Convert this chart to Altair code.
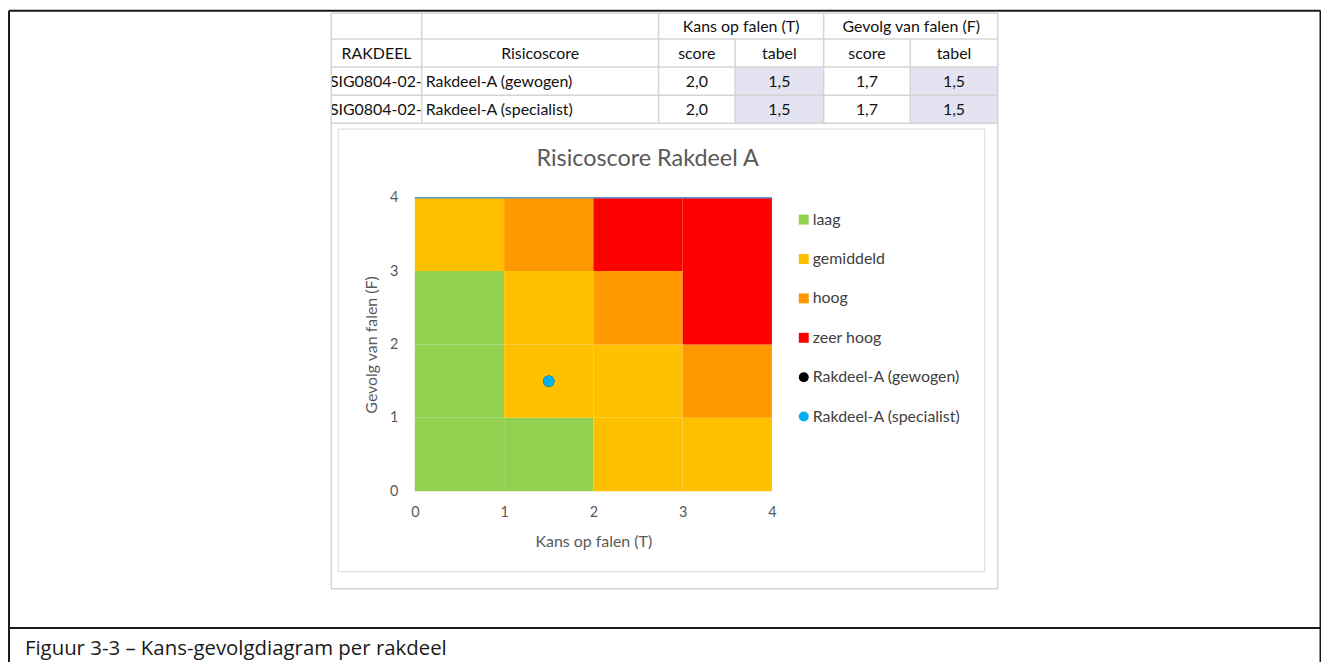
import altair as alt
import pandas as pd

# ---------------- data ----------------
risk_classes = ["laag", "gemiddeld", "hoog", "zeer hoog"]
class_colors = ["#92D050", "#FFC000", "#FF9900", "#FF0000"]
# rows: F band 0-1, 1-2, 2-3, 3-4 ; columns: T band 0-1 .. 3-4
risk_grid = [
    ["laag", "laag", "gemiddeld", "gemiddeld"],
    ["laag", "gemiddeld", "gemiddeld", "hoog"],
    ["laag", "gemiddeld", "hoog", "zeer hoog"],
    ["gemiddeld", "hoog", "zeer hoog", "zeer hoog"],
]
point_names = ["Rakdeel-A (gewogen)", "Rakdeel-A (specialist)"]
point_T = [1.5, 1.5]
point_F = [1.5, 1.5]
point_colors = ["#000000", "#00B0F0"]
axis_ticks = [0, 1, 2, 3, 4]

table_header_1 = ["", "", "Kans op falen (T)", "Gevolg van falen (F)"]
table_header_2 = ["RAKDEEL", "Risicoscore", "score", "tabel", "score", "tabel"]
table_rakdeel = ["SIG0804-02-", "SIG0804-02-"]
table_risicoscore = point_names
table_score_T = ["2,0", "2,0"]
table_tabel_T = ["1,5", "1,5"]
table_score_F = ["1,7", "1,7"]
table_tabel_F = ["1,5", "1,5"]

chart_title = "Risicoscore Rakdeel A"
x_title = "Kans op falen (T)"
y_title = "Gevolg van falen (F)"
caption = "Figuur 3-3 \u2013 Kans-gevolgdiagram per rakdeel"

# ---------------- layout (page pixels) ----------------
W, H = 359, 295
OX, OY = 417, 197
SVG_W, SVG_H = 1320, 654
FONT = "Lato"
GREY_TXT = "#595959"


def rx(px):
    return px - OX


def ry(py):
    return py - OY


# ---------------- heatmap cells ----------------
cells = []
for fi, row in enumerate(risk_grid):
    for ti, cls in enumerate(row):
        cells.append({"T0": ti, "T1": ti + 1, "F0": fi, "F1": fi + 1, "klasse": cls})
cells_df = pd.DataFrame(cells)

all_names = risk_classes + point_names
color_scale = alt.Scale(domain=all_names, range=class_colors + point_colors)
shape_scale = alt.Scale(domain=all_names, range=["square"] * 4 + ["circle"] * 2)

legend = alt.Legend(
    orient="none", legendX=rx(800), legendY=14, title=None,
    symbolSize=100, symbolStrokeWidth=0, labelFontSize=16, labelFont=FONT,
    labelColor="#404040", rowPadding=23.6, labelOffset=1, padding=0,
)

xscale = alt.Scale(domain=[0, 4], nice=False)
yscale = alt.Scale(domain=[0, 4], nice=False)

x_axis = alt.Axis(
    values=axis_ticks, format="d", domain=False, ticks=False, grid=False,
    labelPadding=14, labelFlush=False,
    labelFontSize=14.5, labelFont=FONT, labelColor=GREY_TXT, title=x_title,
    titleFont=FONT, titleFontSize=16, titleFontWeight="normal", titleColor=GREY_TXT,
    titleY=51, titleBaseline="middle",
)
y_axis = alt.Axis(
    values=axis_ticks, format="d", domain=False, ticks=False, grid=False,
    labelPadding=17, labelFlush=False,
    labelFontSize=14.5, labelFont=FONT, labelColor=GREY_TXT, title=y_title,
    titleFont=FONT, titleFontSize=16, titleFontWeight="normal", titleColor=GREY_TXT,
    titleX=-44, titleBaseline="middle",
)

heat = alt.Chart(cells_df).mark_rect(stroke=None).encode(
    x=alt.X("T0:Q", scale=xscale, axis=x_axis),
    x2="T1:Q",
    y=alt.Y("F0:Q", scale=yscale, axis=y_axis),
    y2="F1:Q",
    color=alt.Color("klasse:N", scale=color_scale, legend=legend),
)

top_line = alt.Chart(pd.DataFrame({"T0": [0], "T1": [4], "F": [4]})).mark_rule(
    color="#5B9BD5", strokeWidth=1.5
).encode(x="T0:Q", x2="T1:Q", y="F:Q")

pts_df = pd.DataFrame({"T": point_T, "F": point_F, "klasse": point_names})
points = alt.Chart(pts_df).mark_point(filled=True, size=130, opacity=1).encode(
    x="T:Q", y="F:Q",
    color=alt.Color("klasse:N", scale=color_scale, legend=legend),
    shape=alt.Shape("klasse:N", scale=shape_scale, legend=legend),
)

# ---------------- document decoration ----------------
def seg_df(segs):
    return pd.DataFrame(
        [{"x": rx(a), "x2": rx(c), "y": ry(b), "y2": ry(d)} for a, b, c, d in segs]
    )


def rules(segs, color, width):
    return alt.Chart(seg_df(segs)).mark_rule(color=color, strokeWidth=width).encode(
        x=alt.X("x:Q", scale=None), x2="x2:Q",
        y=alt.Y("y:Q", scale=None), y2="y2:Q",
    )


black_segs = [
    (9, 9, 1327.5, 9), (9, 9, 9, 700), (1327.5, 9, 1327.5, 700),
    (9, 629.5, 1327.5, 629.5),
]
row_y = [11.5, 37.5, 65.5, 94, 122]
table_segs = [(333, y, 1003, y) for y in row_y]
table_segs += [
    (333, 11.5, 333, 590), (424, 11.5, 424, 122), (662, 11.5, 662, 122),
    (739, 37.5, 739, 122), (828, 11.5, 828, 122), (915, 37.5, 915, 122),
    (1003, 11.5, 1003, 590), (333, 590, 1003, 590),
]
border_segs = [
    (340, 128, 990, 128), (340, 573, 990, 573), (340, 128, 340, 573), (990, 128, 990, 573)
]

shade_df = pd.DataFrame({
    "x": [rx(739), rx(915)], "x2": [rx(828), rx(1003)],
    "y": [ry(65.5), ry(65.5)], "y2": [ry(122), ry(122)],
})
shade = alt.Chart(shade_df).mark_rect(color="#E4E3F1").encode(
    x=alt.X("x:Q", scale=None), x2="x2:Q", y=alt.Y("y:Q", scale=None), y2="y2:Q"
)

# table texts
col_center = [378.5, 543, 700.5, 783.5, 871.5, 959]
row_center = [25.5, 52.5, 81, 109]
txt = []
txt.append({"t": table_header_1[2], "x": 745, "y": row_center[0], "a": "center"})
txt.append({"t": table_header_1[3], "x": 916, "y": row_center[0], "a": "center"})
for i, h in enumerate(table_header_2):
    txt.append({"t": h, "x": col_center[i], "y": row_center[1], "a": "center"})
for r in range(2):
    yy = row_center[2 + r]
    txt.append({"t": table_rakdeel[r], "x": 424, "y": yy, "a": "right"})
    txt.append({"t": table_risicoscore[r], "x": 428, "y": yy, "a": "left"})
    for ci, vals in zip(range(2, 6), [table_score_T, table_tabel_T, table_score_F, table_tabel_F]):
        txt.append({"t": vals[r], "x": col_center[ci], "y": yy, "a": "center"})
txt_df = pd.DataFrame(txt)
txt_df["x"] = txt_df["x"] - OX
txt_df["y"] = txt_df["y"] - OY


def text_layer(align):
    d = txt_df[txt_df["a"] == align]
    return alt.Chart(d).mark_text(
        align=align, baseline="middle", font=FONT, fontSize=16, color="#111111"
    ).encode(x=alt.X("x:Q", scale=None), y=alt.Y("y:Q", scale=None), text="t:N")


mask = alt.Chart(pd.DataFrame({"x": [rx(200)], "x2": [rx(333)], "y": [ry(66)], "y2": [ry(121)]})).mark_rect(
    color="white"
).encode(x=alt.X("x:Q", scale=None), x2="x2:Q", y=alt.Y("y:Q", scale=None), y2="y2:Q")

title_txt = alt.Chart(pd.DataFrame({"t": [chart_title], "x": [rx(651)], "y": [ry(158.5)]})).mark_text(
    align="center", baseline="middle", font=FONT, fontSize=23.5, color=GREY_TXT
).encode(x=alt.X("x:Q", scale=None), y=alt.Y("y:Q", scale=None), text="t:N")

cap = alt.Chart(pd.DataFrame({"t": [caption], "x": [rx(25)], "y": [ry(651)]})).mark_text(
    align="left", baseline="middle", font="Open Sans", fontSize=20.5, color="#1a1a1a"
).encode(x=alt.X("x:Q", scale=None), y=alt.Y("y:Q", scale=None), text="t:N")

chart = alt.layer(
    shade,
    text_layer("center"), text_layer("left"), text_layer("right"),
    mask,
    rules(table_segs, "#D4D4D4", 1.5),
    rules(border_segs, "#D9D9D9", 1),
    rules(black_segs, "#1a1a1a", 2),
    title_txt, cap,
    heat, top_line, points,
).properties(
    width=W, height=H,
    autosize=alt.AutoSizeParams(type="none"),
    padding={"left": OX - 8, "top": OY - 8, "right": SVG_W - (OX - 8) - W,
             "bottom": SVG_H - (OY - 8) - H},
    background="white",
).configure_view(stroke=None)

chart.save("out.html", embed_options={"renderer": "svg", "actions": False})
